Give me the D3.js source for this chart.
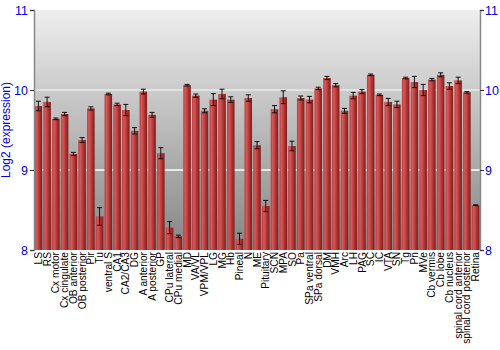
<!DOCTYPE html>
<html>
<head>
<meta charset="utf-8">
<script src="https://cdn.jsdelivr.net/npm/d3@7"></script>
<style>
  body { margin: 0; background: #fff; }
  text { font-family: "Liberation Sans", Arial, sans-serif; }
</style>
</head>
<body>
<div id="chart-area"></div>
<script>
// data
const regions = ['LS', 'RS', 'Cx motor', 'Cx cingulate', 'OB anterior', 'OB posterior', 'Pir', 'Tu',
  'ventral S', 'CA1', 'CA2/CA3', 'DG', 'A anterior', 'A posterior', 'GP', 'CPu lateral', 'CPu medial',
  'MD', 'VA/VL', 'VPM/VPL', 'LG', 'MG', 'Hb', 'Pineal', 'N', 'ME', 'Pituitary', 'SCN', 'MPA', 'SO',
  'Pa', 'SPa ventral', 'SPa dorsal', 'DM', 'VMH', 'Arc', 'LH', 'PAG', 'SC', 'IC', 'VTA', 'SN', 'Tg',
  'Pn', 'MVe', 'Cb vermis', 'Cb lobe', 'Cb nucleus', 'spinal cord anterior', 'spinal cord posterior', 'Retina']
const means = [9.80, 9.85, 9.64, 9.70, 9.20, 9.375, 9.77, 8.42,
  9.95, 9.82, 9.75, 9.49, 9.98, 9.69, 9.21, 8.28, 8.17,
  10.06, 9.93, 9.74, 9.88, 9.95, 9.88, 8.14, 9.90, 9.31, 8.55, 9.76, 9.91, 9.30,
  9.90, 9.88, 10.02, 10.15, 10.06, 9.74, 9.93, 9.98, 10.19, 9.94, 9.85, 9.82, 10.15,
  10.10, 10.00, 10.13, 10.19, 10.05, 10.12, 9.97, 8.56]
const errs = [0.06, 0.06, 0.01, 0.02, 0.02, 0.03, 0.02, 0.11,
  0.01, 0.015, 0.07, 0.04, 0.03, 0.03, 0.07, 0.075, 0.015,
  0.01, 0.02, 0.025, 0.075, 0.06, 0.035, 0.07, 0.04, 0.045, 0.07, 0.045, 0.08, 0.06,
  0.025, 0.04, 0.015, 0.02, 0.02, 0.03, 0.04, 0.025, 0.01, 0.01, 0.045, 0.04, 0.01,
  0.07, 0.07, 0.015, 0.025, 0.04, 0.04, 0.01, 0.005]
const yTicks = [8, 9, 10, 11]

const data = regions.map((r, i) => ({ name: r, mean: means[i], err: errs[i] }))

// Sizing
const MARGIN = { LEFT: 34, RIGHT: 20, TOP: 10, BOTTOM: 100 }
const WIDTH = 500 - MARGIN.LEFT - MARGIN.RIGHT
const HEIGHT = 350 - MARGIN.TOP - MARGIN.BOTTOM

const svg = d3.select('#chart-area').append('svg')
	.attr('width', 500)
	.attr('height', 350)

const defs = svg.append('defs')
const bg = defs.append('linearGradient')
	.attr('id', 'bg').attr('x1', 0).attr('y1', 0).attr('x2', 0).attr('y2', 1)
bg.append('stop').attr('offset', '0%').attr('stop-color', '#eeeeee')
bg.append('stop').attr('offset', '100%').attr('stop-color', '#858585')

const barGrad = defs.append('linearGradient')
	.attr('id', 'bar').attr('x1', 0).attr('y1', 0).attr('x2', 1).attr('y2', 0)
barGrad.append('stop').attr('offset', '0%').attr('stop-color', '#b83a3a')
barGrad.append('stop').attr('offset', '25%').attr('stop-color', '#d65a5a')
barGrad.append('stop').attr('offset', '60%').attr('stop-color', '#b53838')
barGrad.append('stop').attr('offset', '100%').attr('stop-color', '#7e1a1a')

const g = svg.append('g')
	.attr('transform', `translate(${MARGIN.LEFT}, ${MARGIN.TOP})`)

// scales
const x = d3.scaleBand()
	.domain(regions)
	.range([0, WIDTH])
	.paddingInner(0.14)
	.paddingOuter(0.07)

const y = d3.scaleLinear()
	.domain([8, 11])
	.range([HEIGHT, 0])

// background
g.append('rect')
	.attr('width', WIDTH)
	.attr('height', HEIGHT)
	.attr('fill', 'url(#bg)')

// grid lines
g.selectAll('.grid')
	.data([9, 10])
	.enter().append('line')
	.attr('x1', 0).attr('x2', WIDTH)
	.attr('y1', d => y(d)).attr('y2', d => y(d))
	.attr('stroke', d => d === 10 ? '#eaeaea' : '#ffffff')
	.attr('stroke-width', 1.5)

// bars
g.selectAll('.bar')
	.data(data)
	.enter().append('rect')
	.attr('class', 'bar')
	.attr('x', d => x(d.name))
	.attr('y', d => y(d.mean))
	.attr('width', x.bandwidth())
	.attr('height', d => HEIGHT - y(d.mean))
	.attr('fill', 'url(#bar)')

// error bars
const eb = g.selectAll('.err')
	.data(data)
	.enter().append('g')
	.attr('transform', d => `translate(${x(d.name) + x.bandwidth() / 2}, 0)`)
	.attr('stroke', '#111')
	.attr('stroke-width', 1)
eb.append('line')
	.attr('y1', d => y(d.mean - d.err)).attr('y2', d => y(d.mean + d.err))
eb.append('line')
	.attr('x1', -2.5).attr('x2', 2.5)
	.attr('y1', d => y(d.mean - d.err)).attr('y2', d => y(d.mean - d.err))
eb.append('line')
	.attr('x1', -2.5).attr('x2', 2.5)
	.attr('y1', d => y(d.mean + d.err)).attr('y2', d => y(d.mean + d.err))

// axes
const leftAxis = g.append('g')
	.call(d3.axisLeft(y).tickValues(yTicks).tickFormat(d3.format('d')).tickSize(4).tickPadding(2))
const rightAxis = g.append('g')
	.attr('transform', `translate(${WIDTH}, 0)`)
	.call(d3.axisRight(y).tickValues(yTicks).tickFormat(d3.format('d')).tickSize(4).tickPadding(1))
;[leftAxis, rightAxis].forEach(a => {
	a.select('.domain').attr('stroke', '#888').attr('stroke-width', 1.5)
	a.selectAll('.tick line').attr('stroke', '#333')
	a.selectAll('.tick text')
		.attr('fill', '#0000ee')
		.attr('font-size', '12.5px')
		.attr('font-family', '"Liberation Sans", Arial, sans-serif')
})

// x labels
const xAxis = g.append('g')
	.attr('transform', `translate(0, ${HEIGHT})`)
	.call(d3.axisBottom(x).tickSize(0).tickPadding(0))
xAxis.select('.domain').remove()
xAxis.selectAll('.tick text')
	.attr('transform', 'rotate(-90)')
	.attr('text-anchor', 'end')
	.attr('x', -2)
	.attr('y', 0)
	.attr('dy', '0.35em')
	.attr('fill', '#000')
	.attr('font-size', '10.2px')
	.attr('font-family', '"Liberation Sans", Arial, sans-serif')

// y-axis label
g.append('text')
	.attr('x', -(HEIGHT / 2))
	.attr('y', -24)
	.attr('transform', 'rotate(-90)')
	.attr('text-anchor', 'middle')
	.attr('font-size', '12px')
	.attr('fill', '#0000ee')
	.text('Log2 (expression)')
</script>
</body>
</html>
